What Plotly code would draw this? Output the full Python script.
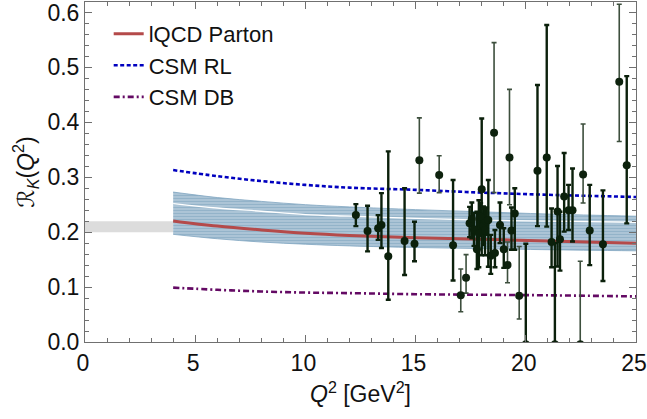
import plotly.graph_objects as go

# ---------------- data ----------------
q2_curve = [4, 6, 8, 10, 12, 15, 18, 21, 25]
lqcd_parton = [0.2205, 0.211, 0.204, 0.198, 0.194, 0.190, 0.187, 0.184, 0.180]
csm_rl = [0.313, 0.302, 0.293, 0.286, 0.281, 0.277, 0.272, 0.268, 0.264]
csm_db = [0.099, 0.095, 0.092, 0.090, 0.089, 0.087, 0.086, 0.085, 0.083]
band_upper = [0.273, 0.263, 0.256, 0.250, 0.246, 0.241, 0.237, 0.233, 0.229]
band_lower = [0.196, 0.188, 0.182, 0.178, 0.175, 0.172, 0.170, 0.168, 0.166]
band_center = [0.252, 0.244, 0.238, 0.232, 0.229, 0.225, 0.222, 0.220, 0.218]

q2_gray = [0, 4]
gray_upper = [0.220, 0.220]
gray_lower = [0.200, 0.200]

# lattice points, dark set: Q2, value, +err, -err
dark_q2 = [12.29, 12.82, 13.30, 13.45, 13.76, 14.50, 14.95, 16.70, 17.45, 17.55,
           17.65, 17.78, 17.87, 17.95, 18.00, 18.08, 18.15, 18.22, 18.30, 18.41,
           18.60, 18.83, 19.00, 19.35, 19.50, 20.00, 20.53, 20.95, 21.17, 21.32,
           21.44, 21.55, 21.74, 21.94, 22.12, 22.90, 23.50, 24.58]
dark_val = [0.231, 0.202, 0.207, 0.213, 0.156, 0.184, 0.179, 0.176, 0.216, 0.224,
            0.205, 0.169, 0.198, 0.228, 0.278, 0.212, 0.203, 0.220, 0.222, 0.157,
            0.162, 0.213, 0.169, 0.203, 0.234, -0.004, 0.312, 0.336, 0.182, -0.004,
            0.2375, 0.187, 0.265, 0.240, 0.240, 0.203, 0.178, 0.322]
dark_plus = [0.020, 0.046, 0.024, 0.058, 0.191, 0.096, 0.040, 0.119, 0.030, 0.030,
             0.030, 0.068, 0.060, 0.025, 0.129, 0.035, 0.040, 0.025, 0.073, 0.038,
             0.042, 0.041, 0.038, 0.042, 0.046, 0.183, 0.156, 0.241, 0.061, 0.184,
             0.083, 0.050, 0.079, 0.046, 0.076, 0.083, 0.098, 0.162]
dark_minus = [0.020, 0.037, 0.021, 0.042, 0.079, 0.062, 0.032, 0.064, 0.025, 0.035,
              0.030, 0.036, 0.062, 0.025, 0.120, 0.035, 0.045, 0.025, 0.085, 0.033,
              0.026, 0.033, 0.034, 0.035, 0.066, 0.100, 0.101, 0.126, 0.046, 0.100,
              0.100, 0.057, 0.064, 0.036, 0.057, 0.063, 0.067, 0.106]

# lattice points, lighter set
light_q2 = [15.17, 16.07, 17.05, 17.29, 18.56, 19.17, 19.26, 19.70, 22.47, 22.60, 24.24]
light_val = [0.331, 0.304, 0.085, 0.117, 0.381, 0.140, 0.336, 0.084, -0.004, 0.305, 0.474]
light_plus = [0.077, 0.035, 0.048, 0.042, 0.164, 0.042, 0.124, 0.090, 0.151, 0.092, 0.141]
light_minus = [0.060, 0.032, 0.030, 0.028, 0.109, 0.032, 0.086, 0.042, 0.100, 0.052, 0.109]

x_ticks = [0, 5, 10, 15, 20, 25]
y_ticks = [0.0, 0.1, 0.2, 0.3, 0.4, 0.5, 0.6]
y_tick_text = ["0.0", "0.1", "0.2", "0.3", "0.4", "0.5", "0.6"]

FONT = "Liberation Sans, Arial, DejaVu Sans, sans-serif"

fig = go.Figure()

# gray band
fig.add_trace(go.Scatter(x=q2_gray, y=gray_lower, mode="lines", line=dict(width=0),
                         showlegend=False, hoverinfo="skip"))
fig.add_trace(go.Scatter(x=q2_gray, y=gray_upper, mode="lines", line=dict(width=0),
                         fill="tonexty", fillcolor="#dcdcdc", showlegend=False, hoverinfo="skip"))

# blue striped band
fig.add_trace(go.Scatter(x=q2_curve, y=band_lower, mode="lines", line=dict(width=0.8, color="#7fa5c0", shape="spline"),
                         showlegend=False, hoverinfo="skip"))
fig.add_trace(go.Scatter(x=q2_curve, y=band_upper, mode="lines", line=dict(width=0.8, color="#7fa5c0", shape="spline"),
                         fill="tonexty", fillcolor="#98b6cc",
                         fillpattern=dict(shape="-", fgcolor="#6a95b4", bgcolor="#bcd0df", size=3, solidity=0.6),
                         showlegend=False, hoverinfo="skip"))
fig.add_trace(go.Scatter(x=q2_curve, y=band_center, mode="lines", line=dict(width=1.3, color="white", shape="spline"),
                         showlegend=False, hoverinfo="skip"))

# curves
fig.add_trace(go.Scatter(x=q2_curve, y=lqcd_parton, mode="lines", name="lQCD Parton", legendgroup="a",
                         line=dict(color="#b44a4a", width=3, shape="spline")))
fig.add_trace(go.Scatter(x=q2_curve, y=csm_rl, mode="lines", name="CSM RL", legendgroup="b",
                         line=dict(color="#0000bf", width=2.6, dash="4px,2.5px", shape="spline")))
fig.add_trace(go.Scatter(x=q2_curve, y=csm_db, mode="lines", name="CSM DB", legendgroup="c",
                         line=dict(color="#640a64", width=2.6, dash="6px,3px,2px,3px", shape="spline")))

# points
fig.add_trace(go.Scatter(x=light_q2, y=light_val, mode="markers", showlegend=False,
                         marker=dict(color="#0e220e", size=8),
                         error_y=dict(type="data", symmetric=False, array=light_plus, arrayminus=light_minus,
                                      color="#3d4f3d", thickness=1.6, width=2.5)))
fig.add_trace(go.Scatter(x=dark_q2, y=dark_val, mode="markers", showlegend=False,
                         marker=dict(color="#0b200b", size=8),
                         error_y=dict(type="data", symmetric=False, array=dark_plus, arrayminus=dark_minus,
                                      color="#0b200b", thickness=2.4, width=2.5)))

axis_common = dict(showline=True, linecolor="#707070", linewidth=1, mirror="allticks",
                   ticks="inside", ticklen=7, tickcolor="#707070", tickwidth=1,
                   showgrid=False, zeroline=False, ticklabeloverflow="allow",
                   tickfont=dict(family=FONT, size=23, color="#111"))

fig.update_xaxes(range=[0, 25], tickvals=x_ticks, ticklabelshift=-2,
                 minor=dict(dtick=1, ticks="inside", ticklen=4, tickcolor="#707070"),
                 title=dict(text="<i>Q</i><sup>2</sup> [GeV<sup>2</sup>]", font=dict(family=FONT, size=23, color="#111"),
                            standoff=11),
                 **axis_common)
fig.update_yaxes(range=[0, 0.619], tickvals=y_ticks, ticktext=y_tick_text,
                 minor=dict(dtick=0.02, ticks="inside", ticklen=4, tickcolor="#707070"),
                 title=dict(text="ℛ<sub><i>K</i></sub>(<i>Q</i><sup>2</sup>)", font=dict(family=FONT, size=23, color="#111"),
                            standoff=6),
                 **axis_common)

fig.update_layout(
    width=647, height=419,
    margin=dict(l=85, r=11, t=2, b=77, autoexpand=False),
    plot_bgcolor="white", paper_bgcolor="white",
    showlegend=True,
    legend=dict(x=0.043, y=0.968, xanchor="left", yanchor="top",
                font=dict(family=FONT, size=22, color="#111"),
                bgcolor="rgba(0,0,0,0)", tracegroupgap=6, traceorder="normal"),
)

fig.write_html("out.html", config={"displayModeBar": False},
               post_script="document.body.style.margin='0';document.body.style.overflow='hidden';")
